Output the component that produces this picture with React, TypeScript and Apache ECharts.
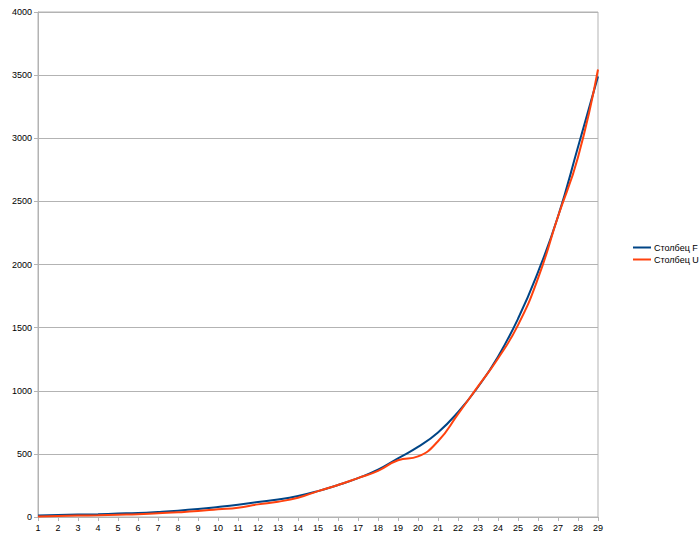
import React, { useEffect, useRef } from "react";
import * as echarts from "echarts";

const categories = ["1","2","3","4","5","6","7","8","9","10","11","12","13","14","15","16","17","18","19","20","21","22","23","24","25","26","27","28","29"];
const seriesF = [12,16,19,22,27,32,40,50,63,79,97,118,138,166,205,253,308,375,465,555,670,830,1030,1270,1570,1940,2380,2930,3490];
const seriesU = [3,8,11,14,18,22,30,37,47,61,74,100,121,153,205,253,308,366,450,480,600,815,1035,1255,1520,1890,2380,2850,3545];
const seriesNames = ["Столбец F", "Столбец U"];

export default function App() {
  const ref = useRef<HTMLDivElement>(null);
  useEffect(() => {
    if (!ref.current) return;
    const chart = echarts.init(ref.current, undefined, { renderer: "svg" });
    const font = "'Liberation Sans', Arial, sans-serif";
    chart.setOption({
      animation: false,
      backgroundColor: "#ffffff",
      textStyle: { fontFamily: font },
      grid: { left: 38, right: 102, top: 12, bottom: 27, show: true, borderColor: "#b3b3b3", borderWidth: 1 },
      legend: {
        orient: "vertical",
        left: 633,
        top: 243,
        padding: 0,
        icon: "rect",
        itemWidth: 18,
        itemHeight: 2,
        itemGap: 3,
        textStyle: { fontSize: 9, color: "#000", fontFamily: font, padding: [0, 0, 0, -2] },
        data: seriesNames,
      },
      xAxis: {
        type: "category",
        data: categories,
        boundaryGap: false,
        axisLine: { lineStyle: { color: "#b3b3b3" } },
        axisTick: { show: true, length: 4, alignWithLabel: true, lineStyle: { color: "#b3b3b3" } },
        axisLabel: { color: "#000", fontSize: 9, margin: 6, interval: 0 },
        splitLine: { show: false },
      },
      yAxis: {
        type: "value",
        min: 0,
        max: 4000,
        interval: 500,
        axisLine: { show: true, lineStyle: { color: "#b3b3b3" } },
        axisTick: { show: true, length: 4, lineStyle: { color: "#b3b3b3" } },
        axisLabel: { color: "#000", fontSize: 9, margin: 6, formatter: (v: number) => String(v) },
        splitLine: { show: true, lineStyle: { color: "#b3b3b3" } },
      },
      series: [
        {
          name: seriesNames[0],
          type: "line",
          data: seriesF,
          smooth: true,
          symbol: "none",
          lineStyle: { color: "#004586", width: 2 },
          itemStyle: { color: "#004586" },
        },
        {
          name: seriesNames[1],
          type: "line",
          data: seriesU,
          smooth: true,
          symbol: "none",
          lineStyle: { color: "#ff420e", width: 2 },
          itemStyle: { color: "#ff420e" },
        },
      ],
    });
    return () => chart.dispose();
  }, []);
  return <div ref={ref} style={{ position: "fixed", left: 0, top: 0, width: 700, height: 544 }} />;
}
